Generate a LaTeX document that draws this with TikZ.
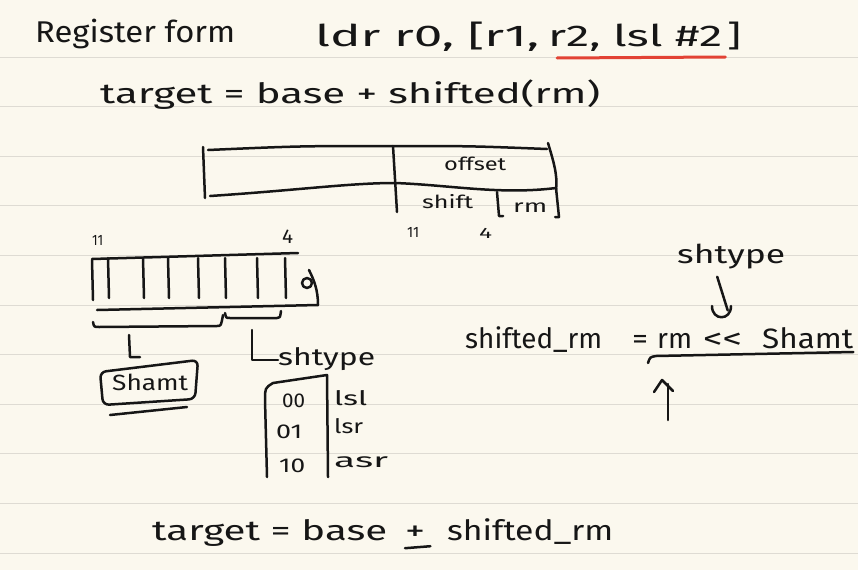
\documentclass[tikz,border=0pt]{standalone}
\usepackage{fontspec}
\setmainfont{Fira Sans}
\usepackage{graphicx}
\usetikzlibrary{calc}
\definecolor{paperc}{RGB}{251,248,238}
\definecolor{rulec}{RGB}{222,219,211}
\definecolor{inkc}{RGB}{22,22,22}
\definecolor{redc}{RGB}{226,66,52}
\newcommand{\hw}[2]{\resizebox{#1pt}{\height}{#2}}
\newcommand{\fs}[1]{\fontsize{#1}{#1}\selectfont}
\begin{document}
\begin{tikzpicture}[x=1pt,y=-1pt,
  ink/.style={line width=2.5pt,line cap=round,line join=round,draw=inkc},
  txt/.style={inner sep=0pt,anchor=base west,text=inkc},
  redline/.style={line width=3pt,line cap=round,draw=redc},
  rule/.style={line width=1pt,draw=rulec}]
\fill[paperc] (0,0) rectangle (858,570);
\useasboundingbox (0,0) rectangle (858,570);
\foreach \k in {0,...,10} \draw[rule] (0,{57+49.6*\k}) -- (858,{57+49.6*\k});

% header
\node[txt,font=\fs{30}] (reg) at (35,42) {\hw{200}{Register form}};
\node[txt,font=\fs{30}] (ldrA) at (315,46) {\hw{224}{ldr r0, [r1,}};
\node[txt,font=\fs{30}] (ldrB) at (548,46) {\hw{174}{r2, lsl \#2}};
\node[txt,font=\fs{30}] (ldrC) at (727,46) {\hw{14}{]}};
\draw[redline] ($(ldrB.base west)+(9,12)$) -- ($(ldrB.base east)+(3,11)$);
\node[txt,font=\fs{28}] (tgt1) at (100,103) {\hw{500}{target = base + shifted(rm)}};

% instruction word box
\draw[ink] (203,147) -- (205,198);
\draw[ink] (208,150) .. controls (300,146) .. (393,146) .. controls (470,146) .. (547,149);
\draw[ink] (548,143) .. controls (553,160) and (558,175) .. (556,190);
\draw[ink] (210,196) .. controls (300,190) and (350,183) .. (395,183) .. controls (450,185) and (500,195) .. (556,188);
\draw[ink] (393,146) -- (397,212);
\draw[ink] (497,192) -- (499,216) -- (503,216);
\draw[ink] (556,188) -- (559,217) -- (555,217);
\node[txt,font=\fs{18}] (offs) at (444,170) {\hw{62}{offset}};
\node[txt,font=\fs{18}] (shft) at (422,208) {\hw{51}{shift}};
\node[txt,font=\fs{18}] (rmf) at (513,212) {\hw{34}{rm}};
\node[txt,font=\fs{15}] (n11a) at (407,237) {\hw{12}{11}};
\node[txt,font=\fs{15}] (n4a) at (479,238) {\hw{13}{4}};

% bit field box
\node[txt,font=\fs{15}] (n11b) at (92,245) {\hw{11}{11}};
\node[txt,font=\fs{20}] (n4b) at (282,243) {\hw{11}{4}};
\draw[ink] (92,259) -- (298,253);
\draw[ink] (92,260) -- (93,300);
\foreach \xx in {108,143,168,198,225,257,285} \draw[ink] (\xx,258) -- (\xx+1,298);
\draw[ink] (97,310) -- (318,305);
\draw[ink] (307,283) circle[radius=5];
\draw[ink] (309,270) .. controls (314,280) and (318,290) .. (318,305);

% braces
\draw[ink] (93,322) .. controls (94,327) .. (99,327) -- (217,326) .. controls (221,326) .. (223,315);
\draw[ink] (225,313) .. controls (226,318) .. (230,318) -- (277,318) .. controls (280,318) .. (281,311);
\coordinate (b1) at (129,335);
\coordinate (b2) at (252,330);

% shamt
\node[txt,font=\fs{22}] (shamt) at (112,390) {\hw{76}{Shamt}};
\draw[ink,rounded corners=6pt] (100,372) -- (198,360) -- (195,399) -- (103,405) -- cycle;
\draw[ink] (110,415) -- (187,407);
\draw[ink] (b1) -- (130,357) -- (140,357);

% shtype
\node[txt,font=\fs{24}] (shtA) at (278,365) {\hw{97}{shtype}};
\draw[ink] (b2) -- (252,360) -- (shtA.west |- 0,360);

% table
\draw[ink] (273,383) .. controls (265,388) .. (265,400) -- (267,477);
\draw[ink] (273,383) -- (327,375) -- (328,477);
\node[txt,font=\fs{20}] (c00) at (282,407) {\hw{23}{00}};
\node[txt,font=\fs{20}] (c01) at (276,438) {\hw{26}{01}};
\node[txt,font=\fs{20}] (c10) at (279,472) {\hw{26}{10}};
\node[txt,font=\fs{20}] (lsl) at (334,405) {\hw{33}{lsl}};
\node[txt,font=\fs{20}] (lsr) at (334,433) {\hw{29}{lsr}};
\node[txt,font=\fs{20}] (asr) at (334,467) {\hw{54}{asr}};

% right formula
\node[txt,font=\fs{26}] (shtB) at (677,263) {\hw{108}{shtype}};
\node[txt,font=\fs{28}] (sr) at (465,348) {\hw{137}{shifted\_rm}};
\node[txt,font=\fs{28}] (eq) at (632,348) {\hw{16}{=}};
\node[txt,font=\fs{28}] (rm2) at (657,348) {\hw{35}{rm}};
\node[txt,font=\fs{28}] (shl) at (703,348) {\hw{39}{<{}<}};
\node[txt,font=\fs{28}] (shamtB) at (762,348) {\hw{91}{Shamt}};
\draw[ink] ([xshift=-14pt,yshift=-8pt]shtB.south) -- ([xshift=5pt,yshift=22pt]shl.north);
\draw[ink] (712,306) .. controls (712,321) and (731,321) .. (731,306);
\draw[ink] (648,363) .. controls (650,357) .. (656,356) -- (shamtB.east |- 0,352);
\coordinate (upfoot) at (668,420);
\draw[ink] (upfoot) -- (668,384);
\draw[ink] (654,392) -- (662,380) -- (673,391);

% bottom
\node[txt,font=\fs{28}] (tA) at (152,540) {\hw{235}{target = base}};
\node[txt,font=\fs{28}] (plus) at (405,540) {\hw{20}{+}};
\node[txt,font=\fs{28}] (tC) at (447,540) {\hw{166}{shifted\_rm}};
\draw[ink] ([yshift=-8pt]plus.south west) -- ([xshift=5pt,yshift=-6pt]plus.south east);
\end{tikzpicture}
\end{document}
